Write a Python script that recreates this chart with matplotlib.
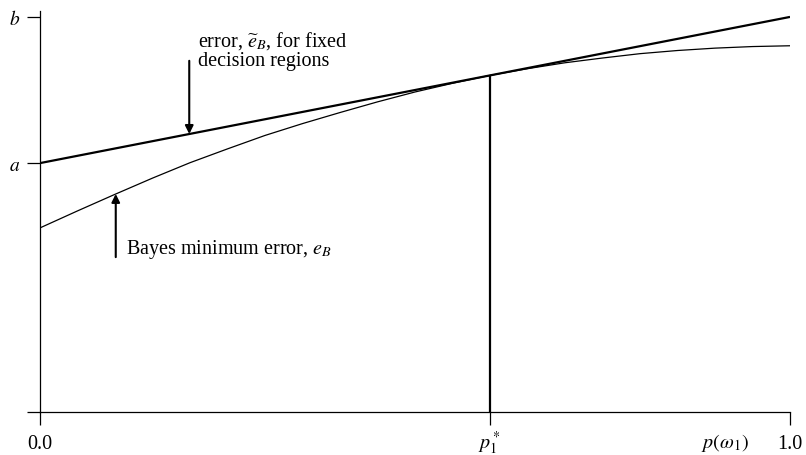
import matplotlib
matplotlib.use('Agg')
import matplotlib.pyplot as plt

plt.rcParams['font.family'] = ['Liberation Serif', 'DejaVu Serif']
plt.rcParams['mathtext.fontset'] = 'stix'

# values (y scaled so that b = 1)
a_val = 0.63
b_val = 1.0
p_star = 0.6

# fixed decision regions error: straight line from a to b
line_x = [0.0, 1.0]
line_y = [a_val, b_val]

# Bayes minimum error curve
bayes_x = [0.0, 0.05, 0.1, 0.15, 0.2, 0.25, 0.3, 0.35, 0.4, 0.45, 0.5, 0.55,
           0.6, 0.65, 0.7, 0.75, 0.8, 0.85, 0.9, 0.95, 1.0]
bayes_y = [0.466, 0.509, 0.551, 0.592, 0.631, 0.666, 0.700, 0.730, 0.758, 0.785, 0.810, 0.832,
           0.852, 0.869, 0.884, 0.896, 0.907, 0.915, 0.921, 0.925, 0.927]

xtick_pos = [0.0, p_star, 1.0]
xtick_labels = ['0.0', '$p_1^*$', '1.0']
ytick_pos = [0.0, a_val, b_val]
ytick_labels = ['', '$a$', '$b$']

fig = plt.figure(figsize=(8.06, 4.56), dpi=100)
ax = fig.add_axes([40 / 806, 43 / 456, 750 / 806, 401 / 456])

ax.plot(line_x, line_y, color='black', lw=1.6, solid_capstyle='butt')
ax.plot(bayes_x, bayes_y, color='black', lw=0.9)

# vertical line at the tangent point
p_top = a_val + (b_val - a_val) * p_star
ax.plot([p_star, p_star], [0, p_top], color='black', lw=1.6, solid_capstyle='butt')

ax.set_xlim(0, 1)
ax.set_ylim(0, 1.015)
ax.spines['top'].set_visible(False)
ax.spines['right'].set_visible(False)
for s in ['left', 'bottom']:
    ax.spines[s].set_linewidth(0.9)
ax.set_xticks(xtick_pos)
ax.set_xticklabels([''] * len(xtick_pos))
ax.set_yticks(ytick_pos)
ax.set_yticklabels(ytick_labels)
ax.tick_params(direction='out', length=9.4, width=0.9, labelsize=14, pad=5)

# x tick labels on a common baseline
for xp, lab in zip(xtick_pos, xtick_labels):
    ax.annotate(lab, xy=(xp, 0), xycoords=('data', 'axes fraction'),
                xytext=(0, -26), textcoords='offset points',
                ha='center', va='baseline', fontsize=14.5)
ax.annotate(r'$p(\omega_1)$', xy=(0.913, 0), xycoords=('data', 'axes fraction'),
            xytext=(0, -25.5), textcoords='offset points',
            ha='center', va='baseline', fontsize=14.5)

# annotations
arrow_kw = dict(arrowstyle='-|>', color='black', lw=1.5, mutation_scale=12,
                shrinkA=0, shrinkB=0)
x1 = 0.199
ax.annotate('', xy=(x1, a_val + (b_val - a_val) * x1), xytext=(x1, 0.889), arrowprops=arrow_kw)
ax.text(0.211, 0.927, r'error, $\widetilde{e}_B$, for fixed', fontsize=14.5, va='baseline')
ax.text(0.211, 0.878, 'decision regions', fontsize=14.5, va='baseline')

ax.annotate('', xy=(0.101, 0.552), xytext=(0.101, 0.392), arrowprops=arrow_kw)
ax.text(0.115, 0.4025, r'Bayes minimum error, $e_B$', fontsize=14.5, va='baseline')

fig.savefig('out.png', dpi=100)
